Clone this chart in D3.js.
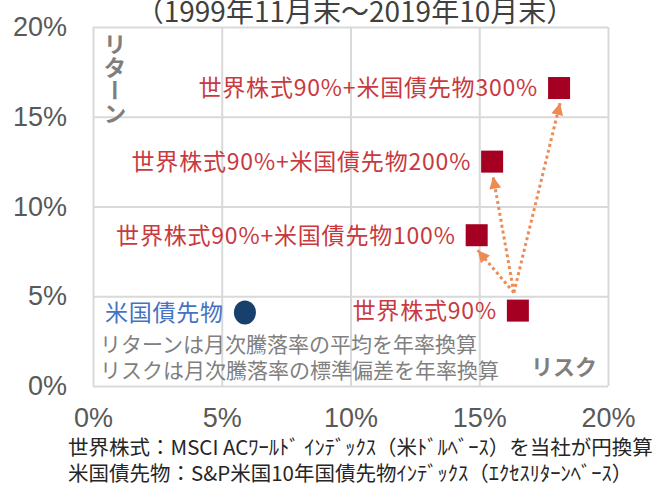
<!DOCTYPE html>
<html>
<head>
<meta charset="utf-8">
<script src="https://cdn.jsdelivr.net/npm/d3@7"></script>
<style>
  body { margin: 0; background: #fff; }
  text { font-family: "Noto Sans CJK JP", "Liberation Sans", sans-serif; }
  .tick text { font-family: "Liberation Sans", Arial, sans-serif; fill: #595959; font-size: 27px; }
</style>
</head>
<body>
<svg width="659" height="488"></svg>
<script>
// Data (risk %, return %)
const names = ["米国債先物", "世界株式90%", "世界株式90%+米国債先物100%", "世界株式90%+米国債先物200%", "世界株式90%+米国債先物300%"];
const risks = [5.9, 16.5, 14.9, 15.5, 18.1];
const returns = [4.1, 4.2, 8.4, 12.5, 16.6];
const kinds = ["bond", "equity", "lev", "lev", "lev"];
const tickValues = [0, 5, 10, 15, 20];
const arrowTargets = [2, 3, 4]; // index of leveraged portfolios
const notes = ["リターンは月次騰落率の平均を年率換算", "リスクは月次騰落率の標準偏差を年率換算"];
const footnotes = [
    "世界株式：MSCI ACﾜｰﾙﾄﾞ ｲﾝﾃﾞｯｸｽ（米ﾄﾞﾙﾍﾞｰｽ）を当社が円換算",
    "米国債先物：S&P米国10年国債先物ｲﾝﾃﾞｯｸｽ（ｴｸｾｽﾘﾀｰﾝﾍﾞｰｽ）"
];

const data = names.map((n, i) => ({ name: n, risk: risks[i], ret: returns[i], kind: kinds[i] }));

const svg = d3.select("svg");
const plotLeft = 93, plotRight = 608, plotTop = 27, plotBottom = 386;

const x = d3.scaleLinear().domain([0, 20]).range([plotLeft, plotRight]);
const y = d3.scaleLinear().domain([0, 20]).range([plotBottom, plotTop]);

// Title (partly cut off at top)
svg.append("text")
    .attr("x", 355)
    .attr("y", 22)
    .attr("text-anchor", "middle")
    .attr("font-size", "28px")
    .attr("fill", "#404040")
    .text("（1999年11月末～2019年10月末）");

// Grid lines (also form the border)
svg.append("g")
    .attr("transform", `translate(0,${plotBottom})`)
    .call(d3.axisBottom(x).tickValues(tickValues).tickSize(-(plotBottom - plotTop)).tickFormat(""))
    .call(g => g.select(".domain").remove())
    .call(g => g.selectAll("line").attr("stroke", "#d9d9d9").attr("stroke-width", 2));

svg.append("g")
    .attr("transform", `translate(${plotLeft},0)`)
    .call(d3.axisLeft(y).tickValues(tickValues).tickSize(-(plotRight - plotLeft)).tickFormat(""))
    .call(g => g.select(".domain").remove())
    .call(g => g.selectAll("line").attr("stroke", "#d9d9d9").attr("stroke-width", 2));

// Axis labels
svg.append("g")
    .attr("transform", `translate(0,${plotBottom})`)
    .call(d3.axisBottom(x).tickValues(tickValues).tickSize(0).tickPadding(22).tickFormat(d => d + "%"))
    .call(g => g.select(".domain").remove());

svg.append("g")
    .attr("transform", `translate(${plotLeft},0)`)
    .call(d3.axisLeft(y).tickValues(tickValues).tickSize(0).tickPadding(26).tickFormat(d => d + "%"))
    .call(g => g.select(".domain").remove());

// Axis titles inside the plot
svg.append("text")
    .attr("x", 115)
    .attr("y", 33)
    .attr("font-size", "23px")
    .attr("font-weight", "bold")
    .attr("fill", "#7f7f7f")
    .style("writing-mode", "vertical-rl")
    .text("リターン");

svg.append("text")
    .attr("x", 597)
    .attr("y", 375)
    .attr("text-anchor", "end")
    .attr("font-size", "22px")
    .attr("font-weight", "bold")
    .attr("fill", "#7f7f7f")
    .text("リスク");

// Notes
svg.selectAll(".note")
    .data(notes)
    .enter().append("text")
    .attr("class", "note")
    .attr("x", 100)
    .attr("y", (d, i) => 352 + i * 26)
    .attr("font-size", "21px")
    .attr("fill", "#808080")
    .text(d => d);

// Arrow marker
svg.append("defs").append("marker")
    .attr("id", "arrow")
    .attr("viewBox", "0 0 10 10")
    .attr("refX", 10)
    .attr("refY", 5)
    .attr("markerWidth", 14)
    .attr("markerHeight", 12)
    .attr("markerUnits", "userSpaceOnUse")
    .attr("orient", "auto")
    .append("path")
    .attr("d", "M0,0L10,5L0,10Z")
    .attr("fill", "#ed8b55");

const base = data[1];
svg.selectAll(".arrow")
    .data(arrowTargets.map(i => data[i]))
    .enter().append("line")
    .attr("class", "arrow")
    .attr("x1", x(base.risk) - 4)
    .attr("y1", y(base.ret) - 18)
    .attr("x2", d => x(d.risk) + 1)
    .attr("y2", d => y(d.ret) + 15)
    .attr("stroke", "#ed8b55")
    .attr("stroke-width", 3)
    .attr("stroke-dasharray", "3,3")
    .attr("marker-end", "url(#arrow)");

// Points
const sq = 22;
svg.selectAll(".sq")
    .data(data.filter(d => d.kind !== "bond"))
    .enter().append("rect")
    .attr("class", "sq")
    .attr("x", d => x(d.risk) - sq / 2)
    .attr("y", d => y(d.ret) - sq / 2)
    .attr("width", sq)
    .attr("height", sq)
    .attr("fill", "#a50021");

svg.selectAll(".dot")
    .data(data.filter(d => d.kind === "bond"))
    .enter().append("ellipse")
    .attr("class", "dot")
    .attr("cx", d => x(d.risk))
    .attr("cy", d => y(d.ret))
    .attr("rx", 11)
    .attr("ry", 12)
    .attr("fill", "#17406d");

// Point labels
svg.selectAll(".lbl")
    .data(data)
    .enter().append("text")
    .attr("class", "lbl")
    .attr("x", d => x(d.risk) - 21)
    .attr("y", d => y(d.ret))
    .attr("dy", "0.36em")
    .attr("text-anchor", "end")
    .attr("font-size", "23px")
    .attr("letter-spacing", "0.8px")
    .attr("fill", d => d.kind === "bond" ? "#4472c4" : "#c9393e")
    .text(d => d.name);

// Footnotes
svg.selectAll(".foot")
    .data(footnotes)
    .enter().append("text")
    .attr("class", "foot")
    .attr("x", 68)
    .attr("y", (d, i) => 455 + i * 26)
    .attr("font-size", "20.5px")
    .attr("fill", "#262626")
    .text(d => d);
</script>
</body>
</html>
